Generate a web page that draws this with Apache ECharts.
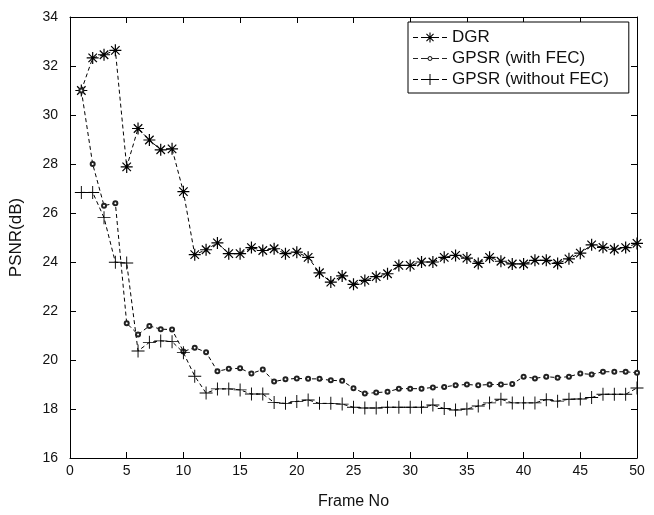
<!DOCTYPE html>
<html>
<head>
<meta charset="utf-8">
<script src="https://cdn.jsdelivr.net/npm/echarts@6/dist/echarts.min.js"></script>
<style>
  html, body { margin: 0; padding: 0; background: #fff; }
  #chart { width: 654px; height: 515px; }
</style>
</head>
<body>
<div id="chart"></div>
<script>
// 帧号 1..50
var frames = [1, 2, 3, 4, 5, 6, 7, 8, 9, 10, 11, 12, 13, 14, 15, 16, 17, 18, 19, 20,
  21, 22, 23, 24, 25, 26, 27, 28, 29, 30, 31, 32, 33, 34, 35, 36, 37, 38, 39, 40,
  41, 42, 43, 44, 45, 46, 47, 48, 49, 50];
var dgr = [31.0, 32.33, 32.46, 32.64, 27.88, 29.45, 28.98, 28.58, 28.62, 26.87,
  24.3, 24.5, 24.78, 24.34, 24.34, 24.59, 24.47, 24.54, 24.34, 24.4,
  24.19, 23.56, 23.18, 23.43, 23.09, 23.25, 23.4, 23.52, 23.86, 23.86,
  24.0, 24.0, 24.19, 24.27, 24.16, 23.94, 24.19, 24.03, 23.92, 23.92,
  24.07, 24.07, 23.94, 24.13, 24.36, 24.7, 24.6, 24.52, 24.59, 24.76];
var gpsrFec = [31.0, 28.0, 26.3, 26.4, 21.5, 21.04, 21.39, 21.26, 21.24, 20.35,
  20.5, 20.32, 19.54, 19.64, 19.66, 19.45, 19.61, 19.12, 19.21, 19.25,
  19.23, 19.23, 19.17, 19.15, 18.85, 18.63, 18.67, 18.7, 18.83, 18.83,
  18.83, 18.88, 18.9, 18.97, 19.0, 18.97, 19.0, 19.0, 19.02, 19.32,
  19.25, 19.32, 19.28, 19.32, 19.45, 19.41, 19.52, 19.52, 19.52, 19.48];
var gpsrNoFec = [26.84, 26.84, 25.81, 23.99, 23.96, 20.37, 20.72, 20.78, 20.75, 20.3,
  19.34, 18.65, 18.82, 18.82, 18.78, 18.61, 18.61, 18.27, 18.23, 18.31,
  18.37, 18.23, 18.23, 18.2, 18.07, 18.04, 18.04, 18.07, 18.07, 18.07,
  18.07, 18.16, 18.02, 17.96, 18.0, 18.12, 18.25, 18.4, 18.25, 18.25,
  18.25, 18.38, 18.32, 18.4, 18.41, 18.47, 18.6, 18.6, 18.6, 18.86];
var seriesNames = ["DGR", "GPSR (with FEC)", "GPSR (without FEC)"];

// 细长矩形(顺时针),用来拼 * 和 + 形状
function bar(cx, cy, len, w, deg) {
  var a = deg * Math.PI / 180;
  var ux = Math.cos(a), uy = Math.sin(a), nx = -uy, ny = ux;
  var pts = [[-len / 2, -w / 2], [len / 2, -w / 2], [len / 2, w / 2], [-len / 2, w / 2]];
  return pts.map(function (p, i) {
    var x = cx + p[0] * ux + p[1] * nx;
    var y = cy + p[0] * uy + p[1] * ny;
    return (i === 0 ? "M" : "L") + x.toFixed(2) + "," + y.toFixed(2);
  }).join(" ") + " Z ";
}
function star(cx, cy, s, w) {
  return bar(cx, cy, s, w, 0) + bar(cx, cy, s, w, 90) + bar(cx, cy, s, w, 45) + bar(cx, cy, s, w, 135);
}
function plus(cx, cy, s, w) {
  return bar(cx, cy, s, w, 0) + bar(cx, cy, s, w, 90);
}
function ring(cx, cy, r1, r2) {
  var outer = [], inner = [];
  for (var i = 0; i < 16; i++) {
    var a = i / 16 * Math.PI * 2;
    outer.push((i ? "L" : "M") + (cx + r1 * Math.cos(a)).toFixed(2) + "," + (cy + r1 * Math.sin(a)).toFixed(2));
    var b = -a;
    inner.push((i ? "L" : "M") + (cx + r2 * Math.cos(b)).toFixed(2) + "," + (cy + r2 * Math.sin(b)).toFixed(2));
  }
  return outer.join(" ") + " Z " + inner.join(" ") + " Z ";
}
// 图例: - - 标记 - -
function dashes() {
  return bar(2.5, 7, 5, 1, 0) + bar(10, 7, 4, 1, 0) + bar(24, 7, 4, 1, 0) + bar(31.5, 7, 5, 1, 0);
}
function box() {
  // 透明的外框点, 保证图标按 34x14 缩放
  return "M0,0 L0.01,0 L0.01,0.01 Z M34,14 L33.99,14 L33.99,13.99 Z ";
}

var starPath = "path://" + star(10, 10, 20, 2);
var plusPath = "path://" + plus(7, 7, 14, 1);
var legendIcons = [
  "path://" + box() + dashes() + star(17, 7, 10, 1.1),
  "path://" + box() + dashes() + bar(13.5, 7, 3, 1, 0) + bar(20.5, 7, 3, 1, 0) + ring(17, 7, 2.4, 1.4),
  "path://" + box() + dashes() + bar(13.5, 7, 3, 1, 0) + bar(20.5, 7, 3, 1, 0) + plus(17, 7, 11, 1)
];

function pairs(ys) {
  return ys.map(function (y, i) { return [frames[i], y]; });
}

var tickFont = {
  fontFamily: "'Liberation Sans Narrow', 'Liberation Sans', Arial, sans-serif",
  fontSize: 14,
  color: "#111"
};

var myChart = echarts.init(document.getElementById("chart"));
myChart.setOption({
  animation: false,
  backgroundColor: "#fff",
  grid: { left: 67, right: 17, top: 17, bottom: 50 },
  legend: {
    orient: "vertical",
    left: 408,
    top: 22,
    padding: [6, 20, 4, 5],
    itemGap: 2,
    itemWidth: 34,
    itemHeight: 14,
    borderColor: "#000",
    borderWidth: 1,
    backgroundColor: "#fff",
    itemStyle: { borderWidth: 0 },
    textStyle: {
      fontFamily: "'Liberation Sans', Arial, sans-serif",
      fontSize: 17,
      lineHeight: 19,
      color: "#111"
    },
    data: seriesNames.map(function (n, i) {
      return { name: n, icon: legendIcons[i] };
    })
  },
  xAxis: [
    {
      type: "value",
      min: 0,
      max: 50,
      interval: 5,
      name: "Frame No",
      nameLocation: "middle",
      nameGap: 36,
      nameTextStyle: {
        fontFamily: "'Liberation Sans', Arial, sans-serif",
        fontSize: 16,
        color: "#111"
      },
      axisLine: { onZero: false, lineStyle: { color: "#000", width: 1 } },
      axisTick: { inside: true, length: 6, lineStyle: { color: "#000" } },
      axisLabel: Object.assign({ margin: 6 }, tickFont),
      splitLine: { show: false }
    },
    {
      type: "value",
      position: "top",
      min: 0,
      max: 50,
      interval: 5,
      axisLine: { onZero: false, lineStyle: { color: "#000", width: 1 } },
      axisTick: { inside: true, length: 6, lineStyle: { color: "#000" } },
      axisLabel: { show: false },
      splitLine: { show: false }
    }
  ],
  yAxis: [
    {
      type: "value",
      min: 16,
      max: 34,
      interval: 2,
      name: "PSNR(dB)",
      nameLocation: "middle",
      nameGap: 45,
      nameTextStyle: {
        fontFamily: "'Liberation Sans', Arial, sans-serif",
        fontSize: 17,
        color: "#111"
      },
      axisLine: { show: true, onZero: false, lineStyle: { color: "#000", width: 1 } },
      axisTick: { show: true, inside: true, length: 6, lineStyle: { color: "#000" } },
      axisLabel: Object.assign({ margin: 12 }, tickFont),
      splitLine: { show: false }
    },
    {
      type: "value",
      position: "right",
      min: 16,
      max: 34,
      interval: 2,
      axisLine: { show: true, onZero: false, lineStyle: { color: "#000", width: 1 } },
      axisTick: { show: true, inside: true, length: 6, lineStyle: { color: "#000" } },
      axisLabel: { show: false },
      splitLine: { show: false }
    }
  ],
  series: [
    {
      name: seriesNames[0],
      type: "line",
      data: pairs(dgr),
      symbol: starPath,
      symbolSize: 12,
      itemStyle: { color: "#000" },
      lineStyle: { color: "#000", width: 1, type: [4, 3] }
    },
    {
      name: seriesNames[1],
      type: "line",
      data: pairs(gpsrFec),
      symbol: "emptyCircle",
      symbolSize: 4,
      itemStyle: { color: "#222", borderWidth: 0.9 },
      lineStyle: { color: "#000", width: 1, type: [4, 3] }
    },
    {
      name: seriesNames[2],
      type: "line",
      data: pairs(gpsrNoFec),
      symbol: plusPath,
      symbolSize: 13,
      itemStyle: { color: "#000" },
      lineStyle: { color: "#000", width: 1, type: [4, 3] }
    }
  ]
});
</script>
</body>
</html>
